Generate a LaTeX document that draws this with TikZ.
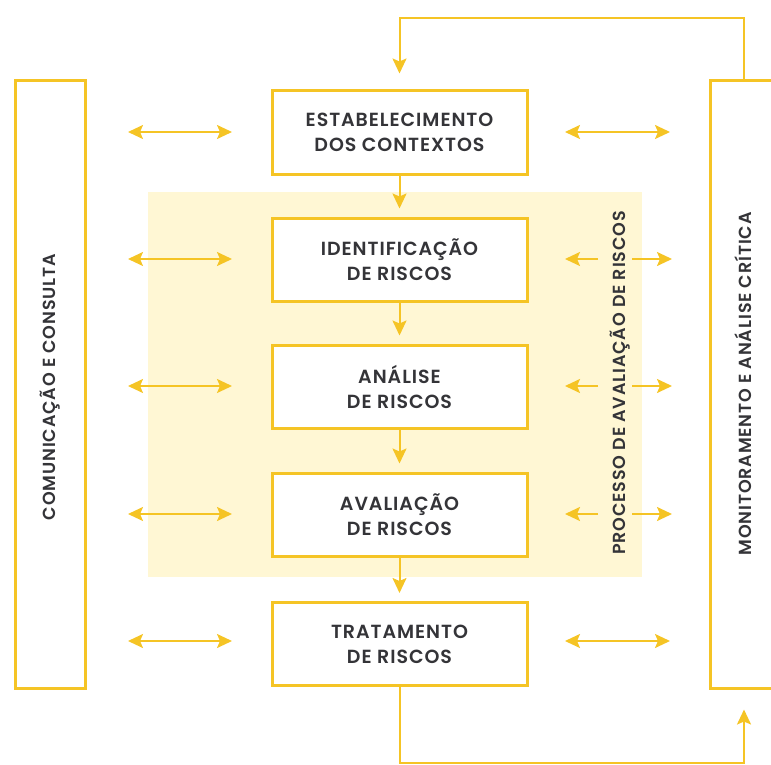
\documentclass[tikz,border=0pt]{standalone}
\usepackage{fontspec}
\setmainfont{Poppins}
\newfontfamily\lblfont{Poppins SemiBold}[LetterSpace=5]
\usetikzlibrary{arrows.meta}
\definecolor{gold}{RGB}{245,196,37}
\definecolor{pale}{RGB}{255,247,212}
\definecolor{ink}{RGB}{52,52,56}
\begin{document}
\begin{tikzpicture}[x=1pt,y=-1pt,
  box/.style={draw=gold,line width=3pt,fill=white,minimum width=255pt,minimum height=83pt,
    align=center,font=\lblfont\fontsize{19}{25}\selectfont,text=ink,inner sep=0pt},
  side/.style={draw=gold,line width=3pt,fill=white,minimum width=70pt,minimum height=607pt,inner sep=0pt},
  vlabel/.style={rotate=90,font=\lblfont\fontsize{17.5}{20}\selectfont,text=ink,inner sep=0pt},
  flow/.style={draw=gold,line width=2pt,-{Stealth[length=15pt,width=14pt,inset=3pt]}},
  both/.style={draw=gold,line width=2pt,{Stealth[length=15pt,width=14pt,inset=3pt]}-{Stealth[length=15pt,width=14pt,inset=3pt]}}
]
\useasboundingbox (0,0) rectangle (771,765);
% pale background of the assessment process
\fill[pale] (148,192) rectangle (642,577);

% side boxes
\node[side] (com) at (50,384.5) {};
\node[side] (mon) at (745,384.5) {};
\node[vlabel] (comlbl) at (50,387) {COMUNICAÇÃO E CONSULTA};
\node[vlabel] (monlbl) at (743,384) {MONITORAMENTO E ANÁLISE CRÍTICA};
\node[vlabel] (proclbl) at (620,383) {PROCESSO DE AVALIAÇÃO DE RISCOS};

% central boxes
\node[box] (est) at (399.5,132.5) {ESTABELECIMENTO\\DOS CONTEXTOS};
\node[box] (ide) at (399.5,259.5) {IDENTIFICAÇÃO\\DE RISCOS};
\node[box] (ana) at (399.5,386.5) {ANÁLISE\\DE RISCOS};
\node[box] (ava) at (399.5,514.5) {AVALIAÇÃO\\DE RISCOS};
\node[box] (tra) at (399.5,644) {TRATAMENTO\\DE RISCOS};

% flow between boxes
\draw[flow] (est.south) -- ([yshift=8pt]ide.north);
\draw[flow] (ide.south) -- ([yshift=8pt]ana.north);
\draw[flow] (ana.south) -- ([yshift=8pt]ava.north);
\draw[flow] (ava.south) -- ([yshift=8pt]tra.north);

% feedback loops
\coordinate (topR) at (744,18);
\coordinate (topL) at (399.5,18);
\draw[flow] ([xshift=-1pt]mon.north) -- (topR) -- (topL) -- ([yshift=16pt]est.north);
\coordinate (botL) at (399.5,763);
\coordinate (botR) at (744,763);
\draw[flow] (tra.south) -- (botL) -- (botR) -- ([yshift=-20pt,xshift=-1pt]mon.south);

% left double arrows
\foreach \n/\y in {1/132,2/259,3/386,4/514,5/641}{
  \coordinate (la\n) at (128,\y);
  \coordinate (lb\n) at (232,\y);
  \draw[both] (la\n) -- (lb\n);
}
% right double arrows outside the pale area
\foreach \n/\y in {1/132,5/641}{
  \coordinate (ra\n) at (565,\y);
  \coordinate (rb\n) at (670,\y);
  \draw[both] (ra\n) -- (rb\n);
}
% right arrows split by the process label
\foreach \n/\y in {2/259,3/386,4/514}{
  \coordinate (rs\n) at (598,\y);
  \coordinate (ra\n) at (565,\y);
  \coordinate (rt\n) at (632,\y);
  \coordinate (rb\n) at (672,\y);
  \draw[flow] (rs\n) -- (ra\n);
  \draw[flow] (rt\n) -- (rb\n);
}
\end{tikzpicture}
\end{document}
